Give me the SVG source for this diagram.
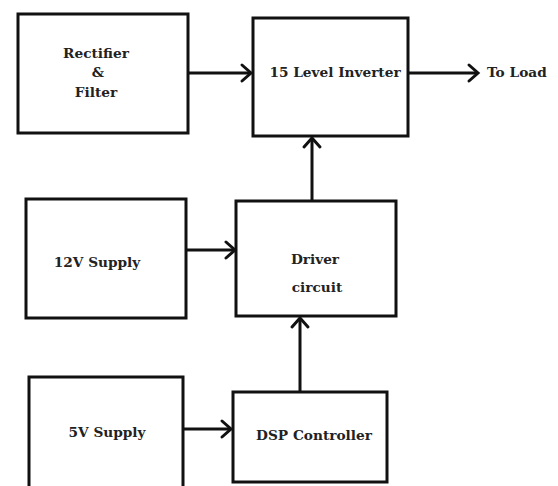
<svg xmlns="http://www.w3.org/2000/svg" width="558" height="486" viewBox="0 0 558 486">
<defs>
<style>
.box{fill:#fff;stroke:#111;stroke-width:3}
.lbl{font-family:'DejaVu Serif',serif;font-weight:bold;font-size:13.7px;fill:#222;text-anchor:middle}
.con{stroke:#111;stroke-width:3;fill:none}
.head{stroke:#111;stroke-width:3;fill:none;stroke-linecap:round;stroke-linejoin:miter}
</style>
</defs>
<rect width="558" height="486" fill="#fff"/>
<g id="rectifier">
<rect class="box" x="18" y="14" width="170" height="119"/>
<text class="lbl" x="96" y="58">Rectifier</text>
<text class="lbl" x="98" y="77">&amp;</text>
<text class="lbl" x="96" y="97">Filter</text>
</g>
<g id="inverter">
<rect class="box" x="253" y="18" width="155" height="118"/>
<text class="lbl" x="335" y="77">15 Level Inverter</text>
</g>
<g id="load">
<text class="lbl" x="487" y="77" style="text-anchor:start">To Load</text>
</g>
<g id="supply12">
<rect class="box" x="26" y="199" width="160" height="119"/>
<text class="lbl" x="97" y="267">12V Supply</text>
</g>
<g id="driver">
<rect class="box" x="236" y="201" width="160" height="115"/>
<text class="lbl" x="315" y="264">Driver</text>
<text class="lbl" x="317" y="292">circuit</text>
</g>
<g id="supply5">
<rect class="box" x="29" y="377" width="154" height="120"/>
<text class="lbl" x="107" y="437">5V Supply</text>
</g>
<g id="dsp">
<rect class="box" x="233" y="392" width="154" height="90"/>
<text class="lbl" x="314" y="440">DSP Controller</text>
</g>
<g id="connectors">
<line class="con" x1="188" y1="73" x2="251" y2="73"/>
<polyline class="head" points="242,65 251,73 242,81"/>
<line class="con" x1="408" y1="73" x2="478" y2="73"/>
<polyline class="head" points="469,65 478,73 469,81"/>
<line class="con" x1="312" y1="200" x2="312" y2="138"/>
<polyline class="head" points="304,147 312,138 320,147"/>
<line class="con" x1="186" y1="250" x2="235" y2="250"/>
<polyline class="head" points="226,242 235,250 226,258"/>
<line class="con" x1="300" y1="391" x2="300" y2="318"/>
<polyline class="head" points="292,327 300,318 308,327"/>
<line class="con" x1="183" y1="429" x2="231" y2="429"/>
<polyline class="head" points="222,421 231,429 222,437"/>
</g>
</svg>
